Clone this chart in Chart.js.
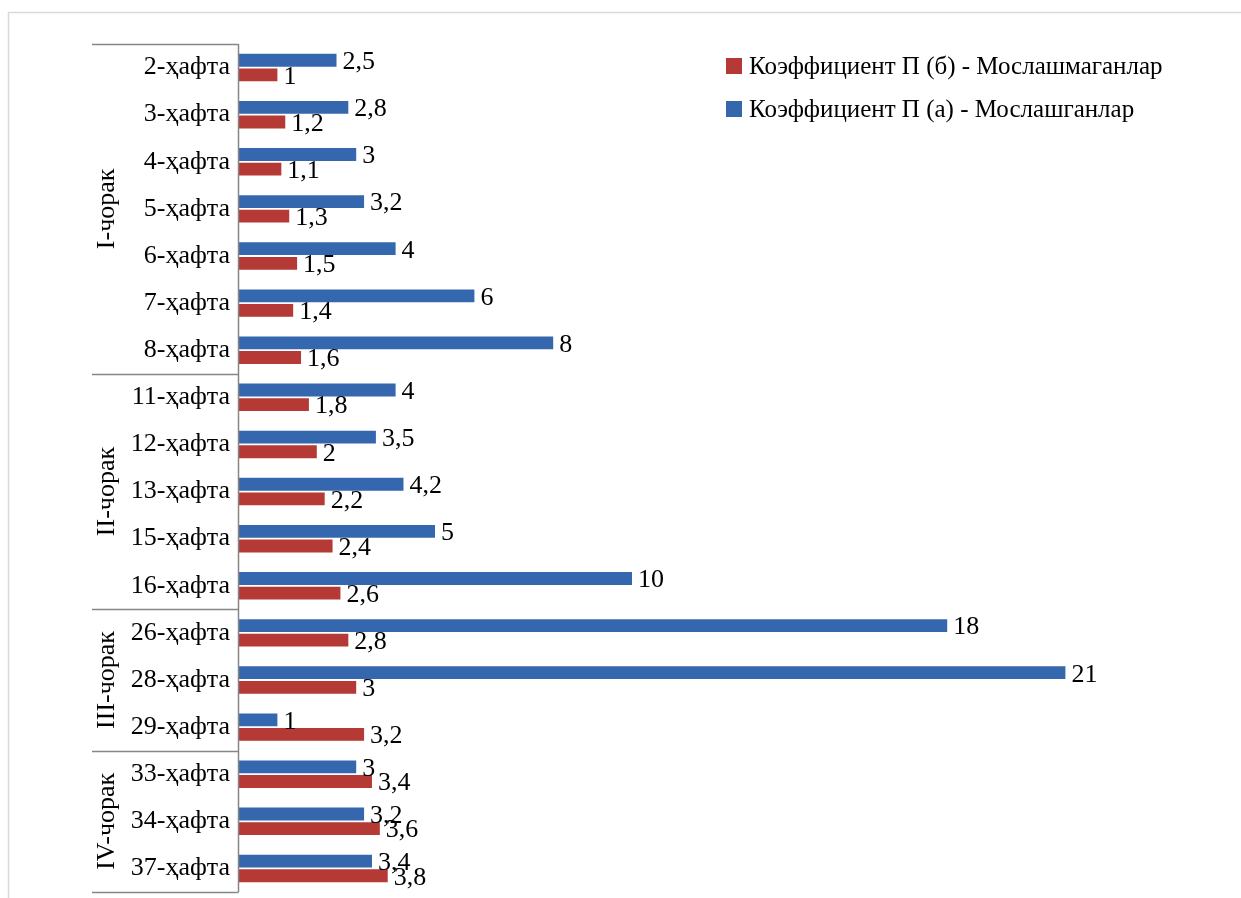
<!DOCTYPE html>
<html>
<head>
<meta charset="utf-8">
<script src="https://cdn.jsdelivr.net/npm/chart.js@4/dist/chart.umd.min.js"></script>
<style>
    html, body { margin: 0; padding: 0; background: #fff; overflow: hidden; }
    #wrap { width: 1241px; height: 898px; position: relative; }
</style>
</head>
<body>
<div id="wrap"><canvas id="weeksChart"></canvas></div>
<script>
// week categories (top to bottom)
const weeks = ['2-ҳафта', '3-ҳафта', '4-ҳафта', '5-ҳафта', '6-ҳафта', '7-ҳафта', '8-ҳафта',
    '11-ҳафта', '12-ҳафта', '13-ҳафта', '15-ҳафта', '16-ҳафта',
    '26-ҳафта', '28-ҳафта', '29-ҳафта',
    '33-ҳафта', '34-ҳафта', '37-ҳафта'];

// quarter groups: label + number of weeks in it
const quarters = ['I-чорак', 'II-чорак', 'III-чорак', 'IV-чорак'];
const quarterSizes = [7, 5, 3, 3];

const adaptedValues = [2.5, 2.8, 3, 3.2, 4, 6, 8, 4, 3.5, 4.2, 5, 10, 18, 21, 1, 3, 3.2, 3.4];
const notAdaptedValues = [1, 1.2, 1.1, 1.3, 1.5, 1.4, 1.6, 1.8, 2, 2.2, 2.4, 2.6, 2.8, 3, 3.2, 3.4, 3.6, 3.8];

const serif = "'Liberation Serif', 'Times New Roman', serif";
const fmt = v => String(v).replace('.', ',');

// outer frame, group lines, quarter labels, bar values, legend
const decorPlugin = {
    id: 'decor',
    beforeDraw(chart) {
        const ctx = chart.ctx;
        ctx.save();
        ctx.strokeStyle = '#d9d9d9';
        ctx.lineWidth = 1.5;
        ctx.strokeRect(8.5, 12.5, 1400, 1000);
        ctx.restore();
    },
    afterDraw(chart) {
        const ctx = chart.ctx;
        const area = chart.chartArea;
        const y = chart.scales.y;
        const axisX = Math.round(area.left) + 0.5;
        const groupLeft = 92;

        ctx.save();
        ctx.strokeStyle = '#868686';
        ctx.lineWidth = 1.5;

        // vertical axis line
        ctx.beginPath();
        ctx.moveTo(axisX, area.top);
        ctx.lineTo(axisX, area.bottom);
        ctx.stroke();

        // group separators
        const step = (y.getPixelForValue(1) - y.getPixelForValue(0));
        let idx = 0;
        const bounds = [area.top];
        quarterSizes.forEach(n => {
            idx += n;
            bounds.push(y.getPixelForValue(idx - 1) + step / 2);
        });
        bounds.forEach(b => {
            ctx.beginPath();
            ctx.moveTo(groupLeft, Math.round(b) + 0.5);
            ctx.lineTo(axisX, Math.round(b) + 0.5);
            ctx.stroke();
        });

        // rotated quarter labels
        ctx.fillStyle = '#000';
        ctx.font = '26px ' + serif;
        ctx.textAlign = 'center';
        ctx.textBaseline = 'middle';
        quarters.forEach((q, i) => {
            const cy = (bounds[i] + bounds[i + 1]) / 2;
            ctx.save();
            ctx.translate(107, cy);
            ctx.rotate(-Math.PI / 2);
            ctx.fillText(q, 0, 0);
            ctx.restore();
        });

        // value labels
        ctx.textAlign = 'left';
        chart.data.datasets.forEach((ds, di) => {
            chart.getDatasetMeta(di).data.forEach((bar, i) => {
                ctx.fillText(fmt(ds.data[i]), bar.x + 6, bar.y + 2);
            });
        });

        // legend (reversed order like the original)
        ctx.font = '25px ' + serif;
        const items = chart.data.datasets.slice().reverse();
        items.forEach((ds, i) => {
            const cy = 66 + i * 43;
            ctx.fillStyle = ds.backgroundColor;
            ctx.fillRect(726, cy - 8, 16, 16);
            ctx.fillStyle = '#000';
            ctx.fillText(ds.label, 749, cy + 1);
        });
        ctx.restore();
    }
};

new Chart(document.getElementById('weeksChart').getContext('2d'), {
    type: 'bar',
    data: {
        labels: weeks,
        datasets: [{
            label: 'Коэффициент П (а) - Мослашганлар',
            data: adaptedValues,
            backgroundColor: '#3467AD',
            categoryPercentage: 0.62,
            barPercentage: 0.88
        }, {
            label: 'Коэффициент П (б) - Мослашмаганлар',
            data: notAdaptedValues,
            backgroundColor: '#B53935',
            categoryPercentage: 0.62,
            barPercentage: 0.88
        }]
    },
    options: {
        indexAxis: 'y',
        responsive: true,
        maintainAspectRatio: false,
        animation: false,
        layout: { padding: { left: 0, top: 44, right: 18, bottom: 6 } },
        plugins: { legend: { display: false }, tooltip: { enabled: false } },
        scales: {
            x: { display: false, min: 0, max: 25 },
            y: {
                grid: { display: false, drawTicks: false },
                border: { display: false },
                ticks: { color: '#000', font: { family: serif, size: 26 }, padding: 8 },
                afterFit: s => { s.width = 238; s.paddingTop = 0; s.paddingBottom = 0; }
            }
        }
    },
    plugins: [decorPlugin]
});
</script>
</body>
</html>
